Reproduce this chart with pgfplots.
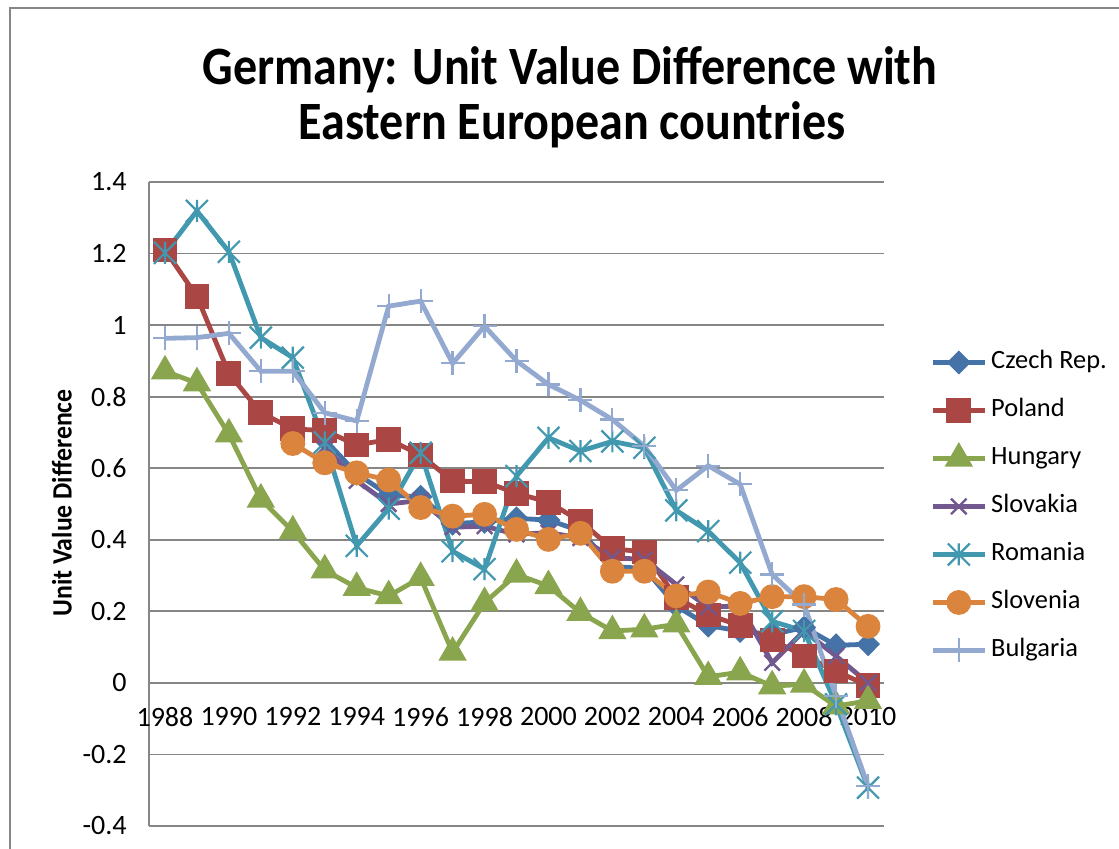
\documentclass[border=0pt]{standalone}
\usepackage{fontspec}
\setmainfont{Carlito}
\usepackage{pgfplots}
\pgfplotsset{compat=1.18}

\definecolor{czech}{HTML}{4572A7}
\definecolor{poland}{HTML}{AA4643}
\definecolor{hungary}{HTML}{89A54E}
\definecolor{slovakia}{HTML}{71588F}
\definecolor{romania}{HTML}{4198AF}
\definecolor{slovenia}{HTML}{DB843D}
\definecolor{bulgaria}{HTML}{93A9CF}
\definecolor{gridgray}{HTML}{868686}

% Excel-style star: an x with a vertical bar
\pgfdeclareplotmark{xstar}{%
  \pgfpathmoveto{\pgfqpoint{-\pgfplotmarksize}{-\pgfplotmarksize}}%
  \pgfpathlineto{\pgfqpoint{\pgfplotmarksize}{\pgfplotmarksize}}%
  \pgfpathmoveto{\pgfqpoint{-\pgfplotmarksize}{\pgfplotmarksize}}%
  \pgfpathlineto{\pgfqpoint{\pgfplotmarksize}{-\pgfplotmarksize}}%
  \pgfpathmoveto{\pgfqpoint{0pt}{-\pgfplotmarksize}}%
  \pgfpathlineto{\pgfqpoint{0pt}{\pgfplotmarksize}}%
  \pgfusepathqstroke}

\pgfplotstableread{
year czech poland hungary slovakia romania slovenia bulgaria
1988 nan   1.210  0.871 nan   1.202 nan   0.963
1989 nan   1.080  0.838 nan   1.319 nan   0.965
1990 nan   0.865  0.695 nan   1.205 nan   0.977
1991 nan   0.755  0.513 nan   0.965 nan   0.871
1992 nan   0.710  0.424 nan   0.909 0.669 0.871
1993 0.680 0.705  0.315 0.660 0.672 0.615 0.755
1994 0.585 0.665  0.266 0.565 0.383 0.587 0.732
1995 0.525 0.680  0.243 0.500 0.487 0.567 1.053
1996 0.520 0.637  0.294 0.510 0.643 0.490 1.067
1997 0.445 0.564  0.085 0.435 0.368 0.466 0.893
1998 0.450 0.562  0.224 0.438 0.318 0.471 0.997
1999 0.460 0.530  0.303 0.415 0.578 0.429 0.900
2000 0.455 0.505  0.271 0.420 0.685 0.401 0.834
2001 0.425 0.452  0.196 0.405 0.648 0.418 0.790
2002 0.325 0.375  0.145 0.350 0.675 0.312 0.736
2003 0.320 0.366  0.150 0.345 0.657 0.312 0.662
2004 0.215 0.238  0.164 0.275 0.482 0.243 0.538
2005 0.160 0.190  0.017 0.212 0.424 0.254 0.607
2006 0.145 0.160  0.030 0.215 0.336 0.222 0.555
2007 0.135 0.120 -0.009 0.056 0.172 0.241 0.303
2008 0.155 0.075 -0.004 0.145 0.145 0.241 0.219
2009 0.105 0.033 -0.065 0.075 -0.060 0.233 -0.037
2010 0.108 -0.008 -0.050 0.000 -0.293 0.158 -0.288
}\uvd

\begin{document}
\begin{tikzpicture}
\path[use as bounding box] (0,0) rectangle (559.5pt,424.5pt);
\draw[gridgray, line width=1pt] (5pt,-2pt) -- (5pt,420.5pt) -- (562pt,420.5pt);

\begin{axis}[
  at={(74.5pt,11.5pt)}, anchor=south west,
  width=367.5pt, height=322pt, scale only axis,
  xmin=1987.5, xmax=2010.5, ymin=-0.4, ymax=1.4,
  axis x line=middle, axis y line=left,
  axis line style={-, draw=gridgray, line width=1pt},
  xtick={1988,1990,...,2010},
  ytick={-0.4,-0.2,0,0.2,0.4,0.6,0.8,1,1.2,1.4},
  yticklabels={-0.4,-0.2,0,0.2,0.4,0.6,0.8,1,1.2,1.4},
  hide obscured x ticks=false, hide obscured y ticks=false,
  ymajorgrids, grid style={gridgray, line width=0.9pt},
  major tick length=0pt,
  /pgf/number format/assume math mode=true,
  /pgf/number format/1000 sep={},
  tick label style={font=\fontsize{14}{16}\selectfont},
  xticklabel style={anchor=north, inner sep=0pt, yshift=-12pt},
  yticklabel style={anchor=east, inner sep=0pt, xshift=-11pt},
  every axis plot/.append style={line width=2.4pt},
  legend cell align=left,
  legend style={at={(axis description cs:1.0626,0.739)}, anchor=north west,
    draw=none, fill=none, inner sep=0pt, row sep=12pt,
    font=\fontsize{13.2}{15}\selectfont,
    nodes={inner sep=0pt, text height=9pt, text depth=3pt},
    /tikz/every odd column/.append style={column sep=2pt}},
  legend image code/.code={%
    \draw[mark repeat=2, mark phase=2] plot coordinates {(0pt,0pt) (13pt,0pt) (26pt,0pt)};},
]
\addplot[czech, mark=diamond*, mark size=4.3pt, mark options={xscale=1.33, solid}] table[x=year, y=czech] {\uvd};
\addplot[poland, mark=square*, mark size=5pt, mark options={solid}] table[x=year, y=poland] {\uvd};
\addplot[hungary, mark=triangle*, mark size=5.8pt, mark options={solid}] table[x=year, y=hungary] {\uvd};
\addplot[slovakia, mark=x, mark size=5.5pt, mark options={solid, line width=1.2pt}] table[x=year, y=slovakia] {\uvd};
\addplot[romania, mark=xstar, mark size=5.5pt, mark options={solid, line width=1.1pt}] table[x=year, y=romania] {\uvd};
\addplot[slovenia, mark=*, mark size=5pt, mark options={solid}] table[x=year, y=slovenia] {\uvd};
\addplot[bulgaria, mark=+, mark size=6pt, mark options={solid, line width=1.1pt}] table[x=year, y=bulgaria] {\uvd};
\legend{Czech Rep., Poland, Hungary, Slovakia, Romania, Slovenia, Bulgaria}
\end{axis}

\node[rotate=90, xscale=0.92, font=\bfseries\fontsize{14}{16}\selectfont] at (31pt,173pt) {Unit Value Difference};
\node[anchor=base, xscale=0.89, font=\bfseries\fontsize{27}{30}\selectfont] at (285pt,382pt) {Germany: Unit Value Difference with};
\node[anchor=base, xscale=0.89, font=\bfseries\fontsize{27}{30}\selectfont] at (286pt,354.5pt) {Eastern European countries};
\end{tikzpicture}
\end{document}
